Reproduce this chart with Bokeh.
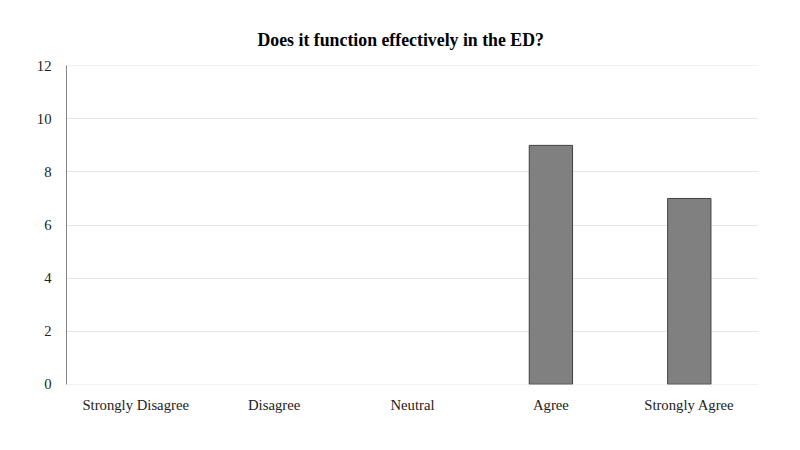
from bokeh.plotting import figure
from bokeh.models import FactorRange, Range1d, ColumnDataSource, CDSView, BooleanFilter
from bokeh.embed import file_html
from bokeh.resources import INLINE

categories = ["Strongly Disagree", "Disagree", "Neutral", "Agree", "Strongly Agree"]
counts = [0, 0, 0, 9, 7]
y_ticks = [0, 2, 4, 6, 8, 10, 12]

src = ColumnDataSource(dict(cat=categories, val=counts))
view = CDSView(filter=BooleanFilter([v > 0 for v in counts]))

p = figure(width=792, height=442, x_range=FactorRange(*categories, range_padding=0),
           y_range=Range1d(-0.01, 12.01), output_backend="svg", toolbar_location=None,
           title="Does it function effectively in the ED?",
           min_border_left=66, min_border_right=34, min_border_top=65, min_border_bottom=58)

p.vbar(x="cat", top="val", width=0.313, source=src, view=view, fill_color="#808080",
       line_color="#404040", line_width=1)

p.title.align = "left"
p.title.text_font = "Liberation Serif"
p.title.text_font_size = "17.8px"
p.title.text_font_style = "bold"
p.title.text_color = "#000000"
p.title.standoff = 32
p.title.offset = 191

p.yaxis.ticker = y_ticks
p.yaxis.major_tick_line_color = None
p.yaxis.minor_tick_line_color = None
p.yaxis.axis_line_color = "#868686"
p.yaxis.major_label_text_font = "Liberation Serif"
p.yaxis.major_label_text_font_size = "14.7px"
p.yaxis.major_label_text_color = "#222222"
p.yaxis.major_label_standoff = 9

p.xaxis.axis_line_color = None
p.xaxis.major_tick_line_color = None
p.xaxis.minor_tick_line_color = None
p.xaxis.major_label_text_font = "Liberation Serif"
p.xaxis.major_label_text_font_size = "14.7px"
p.xaxis.major_label_text_color = "#222222"
p.xaxis.major_label_standoff = 6

p.xgrid.grid_line_color = None
p.ygrid.grid_line_color = "#e6e6e6"
p.outline_line_color = None

open("out.html", "w").write(file_html(p, INLINE))
